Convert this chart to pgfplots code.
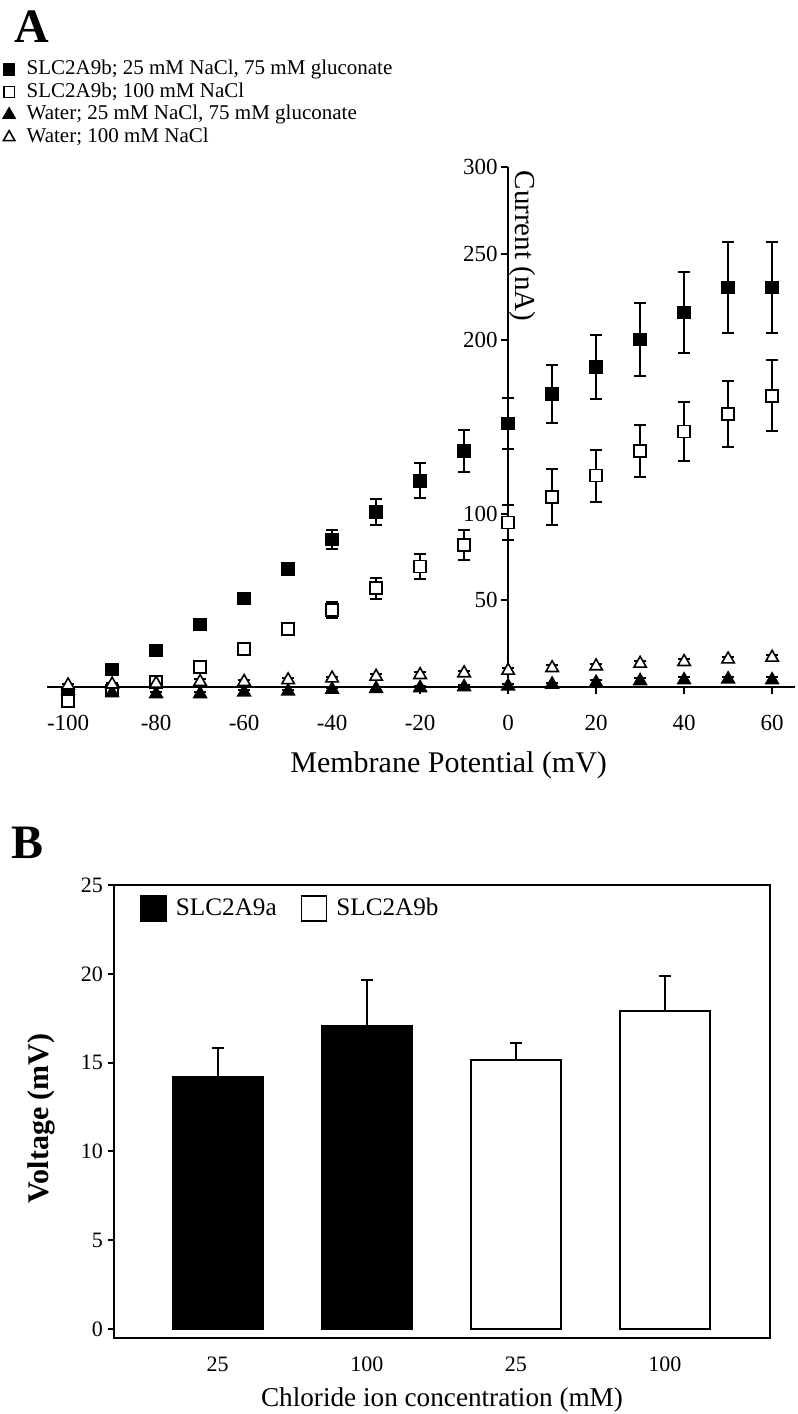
\documentclass[border=0pt]{standalone}
\usepackage{fontspec}
\setmainfont{Liberation Serif}
\usepackage{pgfplots}
\pgfplotsset{compat=1.18}
\begin{document}
\begin{tikzpicture}
\useasboundingbox (0,0) rectangle (399pt,707pt);
\node[font=\fontsize{24}{24}\selectfont\bfseries, anchor=center] at (16pt,693.5pt) {A};
\node[font=\fontsize{24}{24}\selectfont\bfseries, anchor=center] at (14pt,285.5pt) {B};

\begin{axis}[
  scale only axis, width=374pt, height=260pt,
  at={(23.5pt,363.5pt)}, anchor=south west,
  xmin=-104.8, xmax=65.2, ymin=0, ymax=300, clip=false,
  axis x line=bottom, axis y line=middle,
  axis line style={-, line width=1pt},
  every tick/.style={black, line width=1pt},
  major tick length=3.5pt,
  xtick={-100,-80,...,60}, ytick={0,50,...,300},
  yticklabels={,50,100,,200,250,300},
  xtick align=outside, ytick align=center,
  ytick style={xshift=-1.75pt},
  tick label style={font=\fontsize{11.5}{12}\selectfont},
  /pgf/number format/assume math mode=true,
  xticklabel style={yshift=-7pt},
  xlabel={Membrane Potential (mV)},
  every axis x label/.style={at={(axis description cs:0.537,0)}, anchor=center, yshift=-39pt, font=\fontsize{15}{15}\selectfont},
  ylabel={Current (nA)},
  every axis y label/.style={at={(axis description cs:0.635,0.848)}, rotate=-90, anchor=center, font=\fontsize{14.5}{15}\selectfont},
  legend style={at={(axis description cs:-0.0588,1.21)}, anchor=north west, draw=none, fill=none, font=\fontsize{10.5}{11}\selectfont, inner sep=0pt, row sep=0pt,
    nodes={text height=7.9pt, text depth=2.6pt, inner sep=0.4pt},
    /tikz/every odd column/.append style={column sep=5.5pt}},
  legend cell align=left,
  legend image code/.code={\draw[#1] plot coordinates {(3pt,0pt)};},
]
\addplot[only marks, mark=square*, mark size=3pt, mark options={fill=black, draw=black, line width=0.8pt},
  legend image post style={mark size=2.7pt},
  error bars/.cd, y dir=both, y explicit, error bar style={line width=1pt, black}, error mark=-, error mark options={rotate=90, mark size=3pt, line width=1pt, black}]
coordinates {
(-100,-4) +- (0,2)
(-90,10) +- (0,3)
(-80,21) +- (0,2.5)
(-70,36) +- (0,2.5)
(-60,51) +- (0,2.5)
(-50,68) +- (0,3)
(-40,85) +- (0,5.5)
(-30,101) +- (0,7.5)
(-20,119) +- (0,10)
(-10,136) +- (0,12)
(0,152) +- (0,14.5)
(10,169) +- (0,16.5)
(20,184.5) +- (0,18.5)
(30,200.5) +- (0,21)
(40,216) +- (0,23.5)
(50,230.5) +- (0,26)
(60,230.5) +- (0,26)
};
\addlegendentry{SLC2A9b; 25 mM NaCl, 75 mM gluconate}
\addplot[only marks, mark=square*, mark size=3pt, mark options={fill=white, draw=black, line width=0.8pt},
  legend image post style={mark size=2.7pt},
  error bars/.cd, y dir=both, y explicit, error bar style={line width=1pt, black}, error mark=-, error mark options={rotate=90, mark size=3pt, line width=1pt, black}]
coordinates {
(-100,-8) +- (0,2.5)
(-90,-2) +- (0,2)
(-80,3) +- (0,2)
(-70,11.5) +- (0,2.5)
(-60,22) +- (0,2)
(-50,33.5) +- (0,3)
(-40,44.5) +- (0,4.5)
(-30,57) +- (0,6)
(-20,69.5) +- (0,7)
(-10,82) +- (0,8.5)
(0,95) +- (0,10)
(10,109.5) +- (0,16)
(20,122) +- (0,15)
(30,136) +- (0,15)
(40,147.5) +- (0,17)
(50,157.5) +- (0,19)
(60,168) +- (0,20.5)
};
\addlegendentry{SLC2A9b; 100 mM NaCl}
\addplot[only marks, mark=triangle*, mark size=3.6pt, mark options={fill=black, draw=black, line width=0.8pt},
  legend image post style={mark size=3.3pt},
  error bars/.cd, y dir=both, y explicit, error bar style={line width=1pt, black}, error mark=-, error mark options={rotate=90, mark size=3pt, line width=1pt, black}]
coordinates {
(-100,-2) +- (0,1)
(-90,-3.5) +- (0,1)
(-80,-4) +- (0,1)
(-70,-4) +- (0,1)
(-60,-3) +- (0,1)
(-50,-2.5) +- (0,1)
(-40,-1.5) +- (0,1)
(-30,-1) +- (0,1)
(-20,-0.5) +- (0,1)
(-10,0) +- (0,1)
(0,0.5) +- (0,1)
(10,1.5) +- (0,1)
(20,2.5) +- (0,1.5)
(30,3.5) +- (0,1.5)
(40,4) +- (0,1.5)
(50,4.5) +- (0,1.5)
(60,4) +- (0,1.5)
};
\addlegendentry{Water; 25 mM NaCl, 75 mM gluconate}
\addplot[only marks, mark=triangle*, mark size=3.6pt, mark options={fill=white, draw=black, line width=0.8pt},
  legend image post style={mark size=3.3pt},
  error bars/.cd, y dir=both, y explicit, error bar style={line width=1pt, black}, error mark=-, error mark options={rotate=90, mark size=3pt, line width=1pt, black}]
coordinates {
(-100,1) +- (0,1)
(-90,1.5) +- (0,1)
(-80,2) +- (0,1.5)
(-70,3) +- (0,1.5)
(-60,3) +- (0,1)
(-50,4) +- (0,1)
(-40,5) +- (0,1)
(-30,6) +- (0,1.5)
(-20,7) +- (0,1.5)
(-10,8) +- (0,1.5)
(0,9.5) +- (0,1.5)
(10,11) +- (0,1.5)
(20,12) +- (0,1.5)
(30,13.5) +- (0,1.5)
(40,14.5) +- (0,1.5)
(50,16) +- (0,1.5)
(60,17) +- (0,1.5)
};
\addlegendentry{Water; 100 mM NaCl}
\end{axis}

\begin{axis}[
  scale only axis, width=328pt, height=226.5pt,
  at={(57pt,38pt)}, anchor=south west,
  xmin=-0.696, xmax=3.705, ymin=-0.5, ymax=25,
  axis line style={line width=1pt},
  xtick={0,1,2,3}, xticklabels={25,100,25,100},
  xtick style={draw=none},
  ytick={0,5,...,25}, ytick pos=left, ytick align=outside,
  major tick length=3pt,
  every tick/.style={black, line width=1pt},
  tick label style={font=\fontsize{11}{12}\selectfont},
  /pgf/number format/assume math mode=true,
  xticklabel style={yshift=-6pt},
  yticklabel style={xshift=1pt},
  xlabel={Chloride ion concentration (mM)},
  every axis x label/.style={at={(axis description cs:0.5,0)}, anchor=center, yshift=-31pt, font=\fontsize{13.6}{14}\selectfont},
  ylabel={Voltage (mV)},
  every axis y label/.style={at={(axis description cs:-0.11,0.485)}, rotate=90, anchor=center, font=\fontsize{15}{15}\selectfont\bfseries},
  legend columns=2,
  legend style={at={(axis description cs:0.0396,0.98)}, anchor=north west, draw=none, fill=none, font=\fontsize{12.6}{13}\selectfont, inner sep=0pt,
    /tikz/every odd column/.append style={column sep=2.5pt},
    /tikz/every even column/.append style={column sep=10pt}},
  legend image code/.code={\draw[#1, line width=0.8pt] (0pt,-6.25pt) rectangle (12.5pt,6.25pt);},
]
\addplot[ybar, bar width=0.605, bar shift=0pt, fill=black, draw=black, line width=1pt,
  error bars/.cd, y dir=plus, y explicit, error bar style={line width=1pt, black}, error mark=-, error mark options={rotate=90, mark size=3pt, line width=1pt, black}]
coordinates {(0,14.2) +- (0,1.6) (1,17.05) +- (0,2.6)};
\addlegendentry{SLC2A9a}
\addplot[ybar, bar width=0.605, bar shift=0pt, fill=white, draw=black, line width=1pt,
  error bars/.cd, y dir=plus, y explicit, error bar style={line width=1pt, black}, error mark=-, error mark options={rotate=90, mark size=3pt, line width=1pt, black}]
coordinates {(2,15.15) +- (0,0.95) (3,17.9) +- (0,1.95)};
\addlegendentry{SLC2A9b}
\end{axis}
\end{tikzpicture}
\end{document}
